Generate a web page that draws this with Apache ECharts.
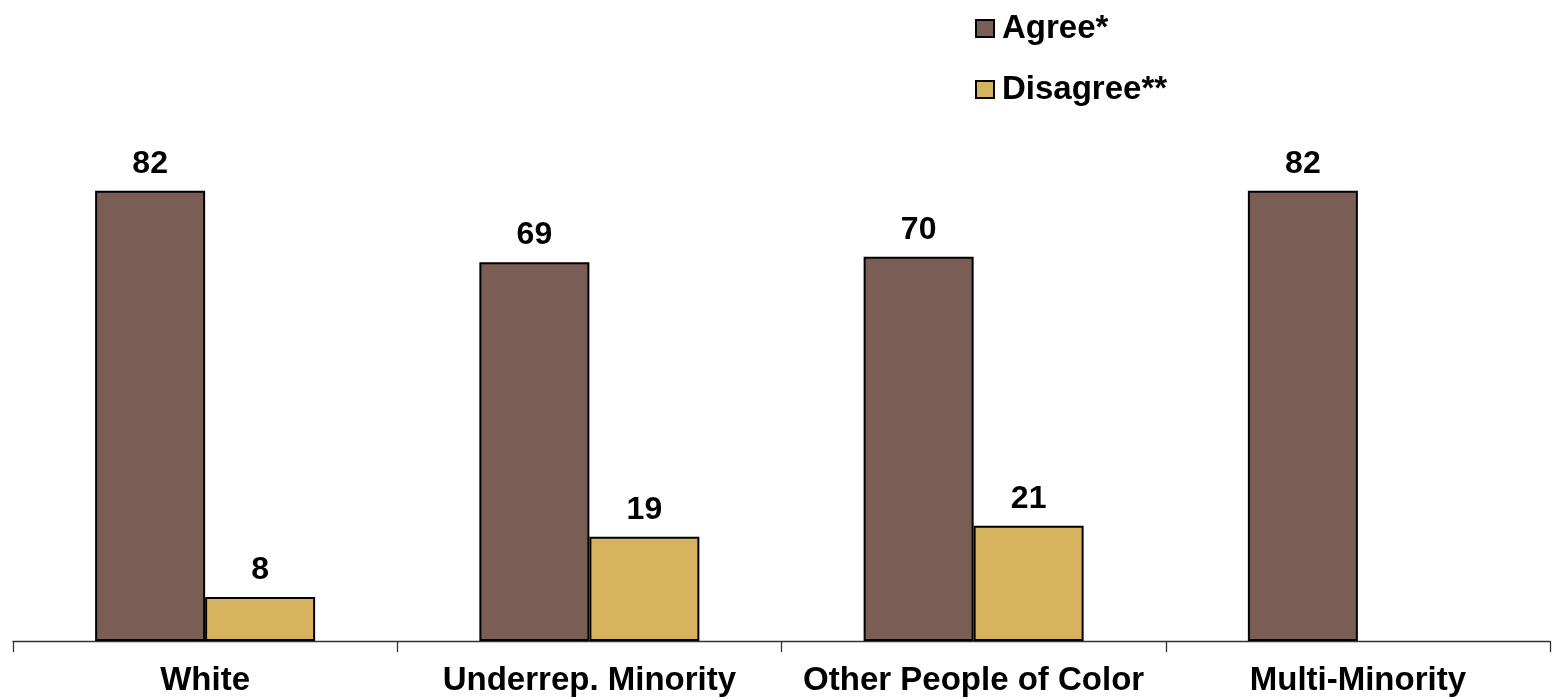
<!DOCTYPE html>
<html>
<head>
<meta charset="utf-8">
<script src="https://cdn.jsdelivr.net/npm/echarts@6/dist/echarts.min.js"></script>
<style>html,body{margin:0;padding:0;background:#fff;}#c{width:1558px;height:698px;}</style>
</head>
<body>
<div id="c"></div>
<script>
const categories = ['White', 'Underrep. Minority', 'Other People of Color', 'Multi-Minority'];
const agree = [82, 69, 70, 82];
const disagree = [8, 19, 21, null];
const seriesNames = ['Agree*', 'Disagree**'];

const chart = echarts.init(document.getElementById('c'));
const font = '"Liberation Sans", Arial, sans-serif';
const labelStyle = {show: true, position: 'top', distance: 11, color: '#000', fontWeight: 'bold', fontSize: 32, fontFamily: font};
chart.setOption({
  animation: false,
  textStyle: {fontFamily: font},
  legend: {
    orient: 'vertical', left: 970, top: 7, itemWidth: 18, itemHeight: 17, itemGap: 28, icon: 'rect',
    textStyle: {fontSize: 33, fontWeight: 'bold', color: '#000', fontFamily: font, padding: [0,0,0,3]},
    data: seriesNames
  },
  grid: {left: 13, right: 8, top: 92, bottom: 57},
  xAxis: {
    type: 'category', data: categories,
    axisLine: {lineStyle: {color: '#333', width: 1.3}},
    axisTick: {show: true, length: 11, lineStyle: {color: '#333', width: 1.3}},
    axisLabel: {color: '#000', fontWeight: 'bold', fontSize: 33, fontFamily: font, margin: 23, interval: 0}
  },
  yAxis: {type: 'value', min: 0, max: 100, show: false, splitLine: {show: false}},
  series: [
    {name: seriesNames[0], type: 'bar', data: agree, barWidth: 110, barGap: '0%',
     itemStyle: {color: '#7A5E55', borderColor: '#000', borderWidth: 2}, label: labelStyle},
    {name: seriesNames[1], type: 'bar', data: disagree, barWidth: 110, barGap: '0%',
     itemStyle: {color: '#D8B35F', borderColor: '#000', borderWidth: 2}, label: labelStyle}
  ]
});
</script>
</body>
</html>
